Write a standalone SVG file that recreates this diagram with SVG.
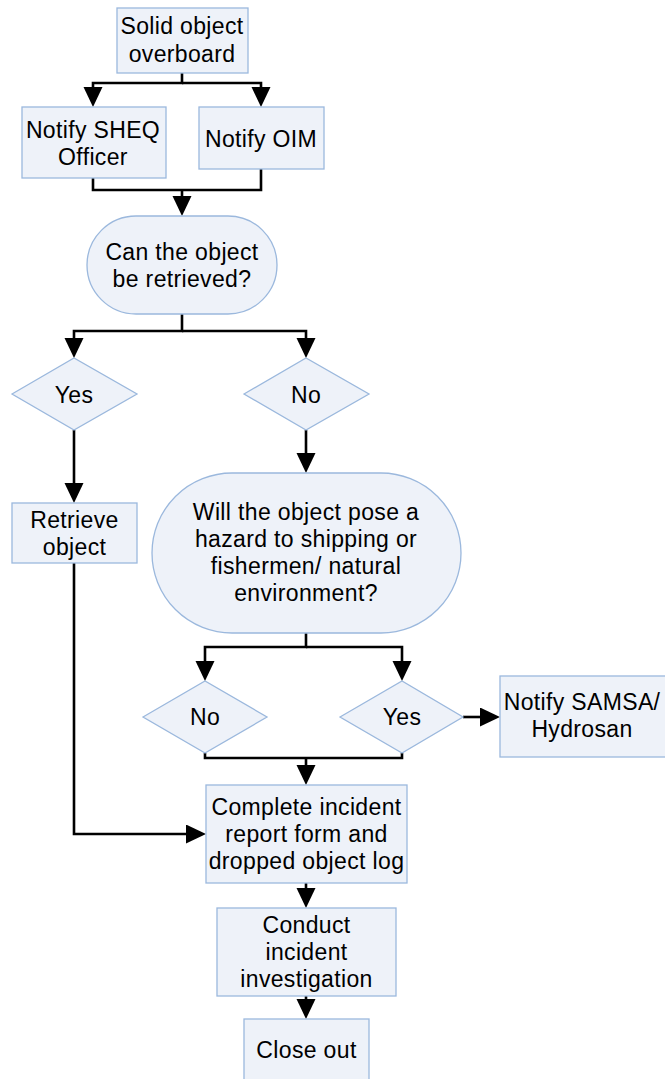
<svg xmlns="http://www.w3.org/2000/svg" width="665" height="1079" viewBox="0 0 665 1079">
  <style>
    .box { fill: #EEF2F9; stroke: #9BB8DD; stroke-width: 1.3; }
    .lbl { font-family: "Liberation Sans", Arial, sans-serif; font-size: 23px; letter-spacing: 0.35px; fill: #000; text-anchor: middle; }
    .wire { fill: none; stroke: #000; stroke-width: 2.6; }
    .arr { marker-end: url(#head); }
  </style>
  <defs>
    <marker id="head" markerUnits="userSpaceOnUse" markerWidth="21" markerHeight="21" refX="0" refY="9.5" orient="auto">
      <path d="M0,0 L20,9.5 L0,19 Z" fill="#000"/>
    </marker>
  </defs>

  <rect width="665" height="1079" fill="#fff"/>

  <g id="connectors">
    <path class="wire arr" d="M182,73 V83 H93 V87"/>
    <path class="wire arr" d="M182,83 H261 V87"/>
    <path class="wire" d="M93,178 V190 H261 V169"/>
    <path class="wire arr" d="M182,190 V196"/>
    <path class="wire arr" d="M182,314 V331 H74 V338"/>
    <path class="wire arr" d="M182,331 H306 V338"/>
    <path class="wire arr" d="M74,430 V483"/>
    <path class="wire arr" d="M306,430 V453"/>
    <path class="wire arr" d="M306,633 V647 H205 V661"/>
    <path class="wire arr" d="M306,647 H402 V661"/>
    <path class="wire arr" d="M463,717 H480"/>
    <path class="wire" d="M205,753 V758 H402 V753"/>
    <path class="wire arr" d="M306,758 V765"/>
    <path class="wire arr" d="M74,563 V834 H186"/>
    <path class="wire arr" d="M306,883 V888"/>
    <path class="wire arr" d="M306,996 V999"/>
  </g>

  <g id="start">
    <rect class="box" x="117" y="8" width="131" height="65"/>
    <text class="lbl" x="182" y="34">Solid object</text>
    <text class="lbl" x="182" y="62">overboard</text>
  </g>

  <g id="notify-sheq">
    <rect class="box" x="22" y="107" width="144" height="71"/>
    <text class="lbl" x="93" y="138">Notify SHEQ</text>
    <text class="lbl" x="93" y="165">Officer</text>
  </g>

  <g id="notify-oim">
    <rect class="box" x="199" y="107" width="125" height="62"/>
    <text class="lbl" x="261" y="147">Notify OIM</text>
  </g>

  <g id="can-retrieve">
    <rect class="box" x="87" y="216" width="190" height="98" rx="49" ry="49"/>
    <text class="lbl" x="182" y="260">Can the object</text>
    <text class="lbl" x="182" y="287">be retrieved?</text>
  </g>

  <g id="yes-retrieve">
    <polygon class="box" points="12,394 74,358 137,394 74,430"/>
    <text class="lbl" x="74" y="403">Yes</text>
  </g>

  <g id="no-retrieve">
    <polygon class="box" points="244,394 306,358 369,394 306,430"/>
    <text class="lbl" x="306" y="403">No</text>
  </g>

  <g id="retrieve-object">
    <rect class="box" x="12" y="503" width="125" height="60"/>
    <text class="lbl" x="74.5" y="528">Retrieve</text>
    <text class="lbl" x="74.5" y="555">object</text>
  </g>

  <g id="hazard">
    <rect class="box" x="152" y="473" width="309" height="160" rx="80" ry="80"/>
    <text class="lbl" x="306" y="520">Will the object pose a</text>
    <text class="lbl" x="306" y="547">hazard to shipping or</text>
    <text class="lbl" x="306" y="574">fishermen/ natural</text>
    <text class="lbl" x="306" y="601">environment?</text>
  </g>

  <g id="no-hazard">
    <polygon class="box" points="143,717 205,681 267,717 205,753"/>
    <text class="lbl" x="205" y="725">No</text>
  </g>

  <g id="yes-hazard">
    <polygon class="box" points="340,717 402,681 463,717 402,753"/>
    <text class="lbl" x="402" y="725">Yes</text>
  </g>

  <g id="notify-samsa">
    <rect class="box" x="500" y="676" width="170" height="81"/>
    <text class="lbl" x="582" y="710">Notify SAMSA/</text>
    <text class="lbl" x="582" y="737">Hydrosan</text>
  </g>

  <g id="incident-report">
    <rect class="box" x="206" y="785" width="201" height="98"/>
    <text class="lbl" x="306.5" y="815">Complete incident</text>
    <text class="lbl" x="306.5" y="842">report form and</text>
    <text class="lbl" x="306.5" y="869">dropped object log</text>
  </g>

  <g id="investigation">
    <rect class="box" x="217" y="908" width="179" height="88"/>
    <text class="lbl" x="306.5" y="933">Conduct</text>
    <text class="lbl" x="306.5" y="960">incident</text>
    <text class="lbl" x="306.5" y="987">investigation</text>
  </g>

  <g id="close-out">
    <rect class="box" x="244" y="1019" width="125" height="70"/>
    <text class="lbl" x="306.5" y="1058">Close out</text>
  </g>
</svg>
